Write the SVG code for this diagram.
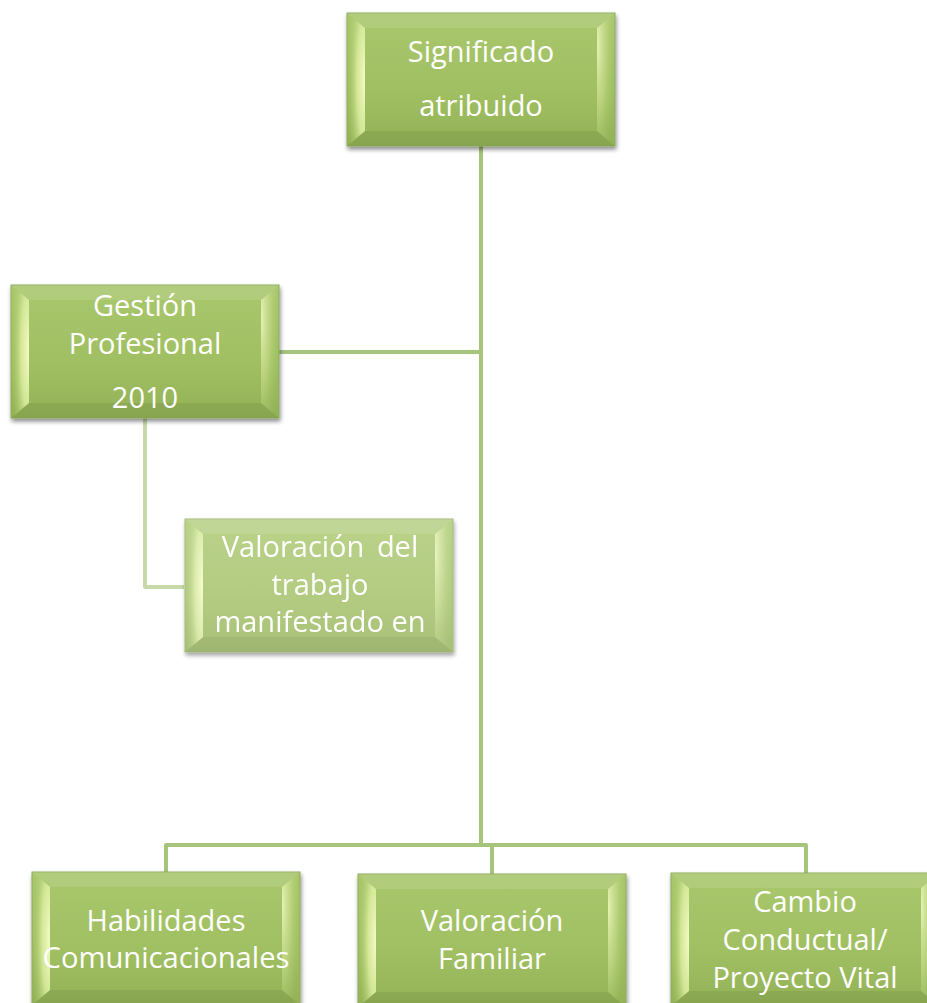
<svg xmlns="http://www.w3.org/2000/svg" xmlns:xlink="http://www.w3.org/1999/xlink" width="927" height="1003" viewBox="0 0 927 1003">
  <style>
    .lbl { font-family: "Open Sans", "Noto Sans", "Liberation Sans", sans-serif; font-size: 29px; fill: #ffffff; text-anchor: middle; }
    .conn { fill: none; stroke: #a7c47c; stroke-width: 4; stroke-linejoin: round; }
    .conn-faded { fill: none; stroke: #c6d9a9; stroke-width: 4; stroke-linejoin: round; }
  </style>
  <defs>
    <linearGradient id="gBase" x1="0" y1="0" x2="0" y2="1">
      <stop offset="0" stop-color="#a9c86d"/>
      <stop offset="0.6" stop-color="#a0bf62"/>
      <stop offset="1" stop-color="#93b256"/>
    </linearGradient>
    <radialGradient id="gLeft" cx="1" cy="0.5" r="1" fx="1" fy="0.5">
      <stop offset="0" stop-color="#f4fbc6" stop-opacity="1"/>
      <stop offset="0.45" stop-color="#dcee9f" stop-opacity="0.85"/>
      <stop offset="1" stop-color="#a6c568" stop-opacity="0"/>
    </radialGradient>
    <radialGradient id="gRight" cx="0" cy="0.25" r="1" fx="0" fy="0.25">
      <stop offset="0" stop-color="#eef8bd" stop-opacity="0.9"/>
      <stop offset="0.5" stop-color="#cfe494" stop-opacity="0.5"/>
      <stop offset="1" stop-color="#a6c568" stop-opacity="0"/>
    </radialGradient>
    <filter id="shadow" x="-10%" y="-10%" width="125%" height="130%">
      <feDropShadow dx="1" dy="3" stdDeviation="2.2" flood-color="#000000" flood-opacity="0.45"/>
    </filter>
    <symbol id="box" width="268" height="133" overflow="visible">
      <rect x="0" y="0" width="268" height="133" fill="url(#gBase)" stroke="#8fab5d" stroke-width="1"/>
      <polygon points="0,0 268,0 250,15 18,15" fill="#ffffff" fill-opacity="0.1"/>
      <polygon points="0,133 268,133 250,118 18,118" fill="#000000" fill-opacity="0.07"/>
      <polygon points="0,0 18,15 18,118 0,133" fill="url(#gLeft)"/>
      <polygon points="268,0 250,15 250,118 268,133" fill="url(#gRight)"/>
    </symbol>
  </defs>

  <rect x="0" y="0" width="927" height="1003" fill="#ffffff"/>

  <g id="connectors">
    <path class="conn" d="M481,146 L481,845"/>
    <path class="conn" d="M279,352 L481,352"/>
    <path class="conn" d="M166,872 L166,845 L806,845 L806,873"/>
    <path class="conn" d="M492,845 L492,874"/>
    <path class="conn-faded" d="M145,418 L145,587 L184,587"/>
  </g>

  <g id="node-significado">
    <use href="#box" x="347" y="13" filter="url(#shadow)"/>
    <text class="lbl" x="481" y="62">Significado</text>
    <text class="lbl" x="481" y="116">atribuido</text>
  </g>

  <g id="node-gestion">
    <use href="#box" x="11" y="285" filter="url(#shadow)"/>
    <text class="lbl" x="145" y="316">Gestión</text>
    <text class="lbl" x="145" y="354">Profesional</text>
    <text class="lbl" x="145" y="408">2010</text>
  </g>

  <g id="node-valoracion-trabajo" opacity="0.8">
    <use href="#box" x="185" y="519" filter="url(#shadow)"/>
    <text class="lbl" x="320" y="557" word-spacing="5">Valoración del</text>
    <text class="lbl" x="320" y="595">trabajo</text>
    <text class="lbl" x="320" y="632">manifestado en</text>
  </g>

  <g id="node-habilidades">
    <use href="#box" x="32" y="872" filter="url(#shadow)"/>
    <text class="lbl" x="166" y="931">Habilidades</text>
    <text class="lbl" x="166" y="968" textLength="247" lengthAdjust="spacingAndGlyphs">Comunicacionales</text>
  </g>

  <g id="node-valoracion-familiar">
    <use href="#box" x="358" y="874" filter="url(#shadow)"/>
    <text class="lbl" x="492" y="931">Valoración</text>
    <text class="lbl" x="492" y="969">Familiar</text>
  </g>

  <g id="node-cambio">
    <use href="#box" x="671" y="873" filter="url(#shadow)"/>
    <text class="lbl" x="805" y="912">Cambio</text>
    <text class="lbl" x="805" y="950">Conductual/</text>
    <text class="lbl" x="805" y="988">Proyecto Vital</text>
  </g>
</svg>
